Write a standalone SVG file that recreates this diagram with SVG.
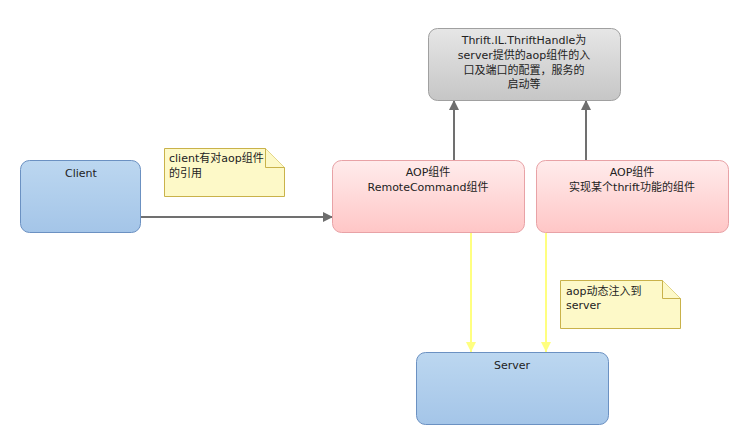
<svg xmlns="http://www.w3.org/2000/svg" width="744" height="436" viewBox="0 0 744 436">
<defs>
<linearGradient id="gBlue" x1="0" y1="0" x2="0" y2="1"><stop offset="0" stop-color="#bcd7f0"/><stop offset="1" stop-color="#a4c5e8"/></linearGradient>
<linearGradient id="gPink" x1="0" y1="0" x2="0" y2="1"><stop offset="0" stop-color="#ffecec"/><stop offset="1" stop-color="#ffc6c6"/></linearGradient>
<linearGradient id="gGray" x1="0" y1="0" x2="0" y2="1"><stop offset="0" stop-color="#e6e6e6"/><stop offset="1" stop-color="#c6c6c6"/></linearGradient>
<marker id="aGray" markerWidth="10" markerHeight="10" refX="10" refY="5" orient="auto" markerUnits="userSpaceOnUse"><path d="M0,0 L10,5 L0,10 Z" fill="#6e6e6e"/></marker>
<marker id="aYel" markerWidth="10" markerHeight="10" refX="10" refY="5" orient="auto" markerUnits="userSpaceOnUse"><path d="M0,0 L10,5 L0,10 Z" fill="#ffff80"/></marker>
</defs>
<style>
text{font-family:"DejaVu Sans","Noto Sans CJK SC",sans-serif;font-size:11px;fill:#222}
.c{text-anchor:middle}
.blue{fill:url(#gBlue);stroke:#6b91c2;stroke-width:1}
.pink{fill:url(#gPink);stroke:#e8a2a6;stroke-width:1}
.gray{fill:url(#gGray);stroke:#a0a0a0;stroke-width:1}
.note{fill:#fdf9c8;stroke:#c9b24a;stroke-width:1}
.g{stroke:#707070;stroke-width:2;fill:none}
.y{stroke:#ffff80;stroke-width:2;fill:none}
</style>
<rect width="744" height="436" fill="#ffffff"/>
<g id="connectors">
<line class="g" x1="140" y1="217" x2="333" y2="217" marker-end="url(#aGray)"/>
<line class="g" x1="454" y1="160" x2="454" y2="100" marker-end="url(#aGray)"/>
<line class="g" x1="586" y1="160" x2="586" y2="100" marker-end="url(#aGray)"/>
<line class="y" x1="471" y1="233" x2="471" y2="352" marker-end="url(#aYel)"/>
<line class="y" x1="546" y1="233" x2="546" y2="352" marker-end="url(#aYel)"/>
</g>
<g id="thrift">
<rect class="gray" x="428.5" y="28.5" width="192" height="72" rx="9"/>
<text class="c" x="524" y="44">Thrift.IL.ThriftHandle为</text>
<text class="c" x="524" y="59">server提供的aop组件的入</text>
<text class="c" x="524" y="74">口及端口的配置，服务的</text>
<text class="c" x="524" y="88">启动等</text>
</g>
<g id="client">
<rect class="blue" x="20.5" y="160.5" width="120" height="72" rx="9"/>
<text class="c" x="81" y="177">Client</text>
</g>
<g id="note1">
<path class="note" d="M164.5,148.5 H265.5 L284.5,167.5 V196.5 H164.5 Z"/>
<path class="note" d="M265.5,148.5 V167.5 H284.5" fill="none"/>
<text x="169" y="162">client有对aop组件</text>
<text x="169" y="177">的引用</text>
</g>
<g id="aop1">
<rect class="pink" x="332.5" y="160.5" width="192" height="72" rx="9"/>
<text class="c" x="428" y="176">AOP组件</text>
<text class="c" x="428" y="191">RemoteCommand组件</text>
</g>
<g id="aop2">
<rect class="pink" x="536.5" y="160.5" width="192" height="72" rx="9"/>
<text class="c" x="632" y="176">AOP组件</text>
<text class="c" x="632" y="191">实现某个thrift功能的组件</text>
</g>
<g id="note2">
<path class="note" d="M560.5,280.5 H662.5 L680.5,298.5 V328.5 H560.5 Z"/>
<path class="note" d="M662.5,280.5 V298.5 H680.5" fill="none"/>
<text x="566" y="295">aop动态注入到</text>
<text x="566" y="309">server</text>
</g>
<g id="server">
<rect class="blue" x="416.5" y="352.5" width="192" height="72" rx="9"/>
<text class="c" x="512" y="369">Server</text>
</g>
</svg>
